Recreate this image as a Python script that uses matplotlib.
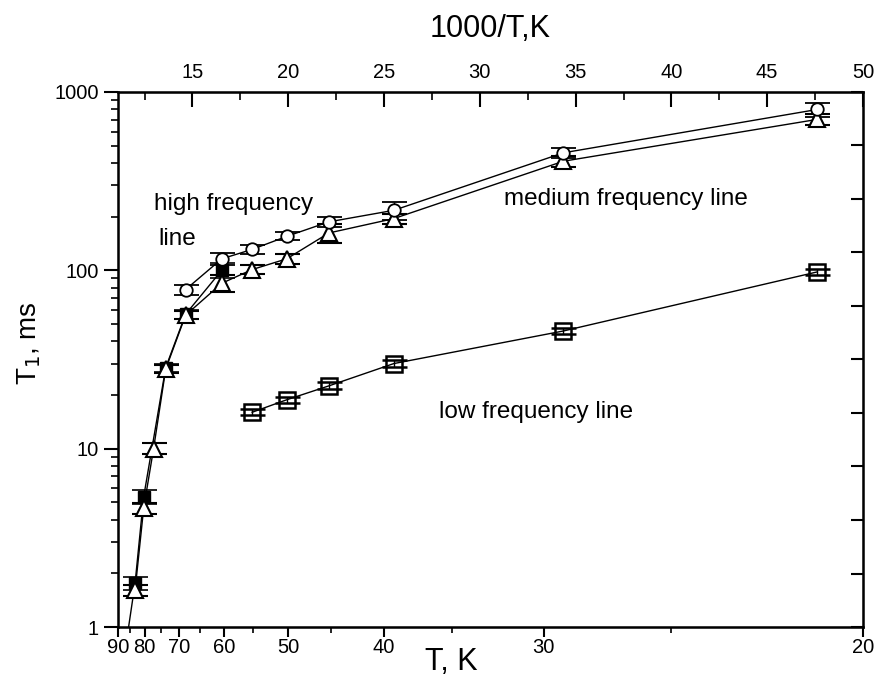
import numpy as np
import matplotlib.pyplot as plt
from matplotlib.ticker import FixedLocator, NullFormatter, LogLocator

plt.rcParams.update({
    "font.family": ["Liberation Sans", "DejaVu Sans"],
    "font.size": 14,
})

# temperatures (K) and T1 (ms)
T_high = [68.3, 60.5, 55.2, 50.2, 45.2, 39.2, 29.1, 21.0]
t1_high = [78, 116, 131, 155, 187, 217, 456, 798]
err_high = [5, 9, 8, 8, 13, 25, 30, 70]

T_med = [83.3, 80.3, 77.1, 73.5, 68.3, 60.5, 55.2, 50.2, 45.2, 39.2, 29.1, 21.0]
t1_med = [1.61, 4.64, 10, 28, 56, 84.6, 101, 116, 162, 195, 409, 702]
err_med = [0.12, 0.35, 0.7, 1.5, 3, 9, 6, 7, 20, 12, 30, 50]

T_fill = [87.0, 83.3, 80.3, 73.5, 68.3, 60.5]
t1_fill = [0.75, 1.76, 5.37, 28.5, 56.7, 100]
err_fill = [0.05, 0.15, 0.5, 1.5, 3.5, 10]

T_low = [55.2, 50.2, 45.2, 39.2, 29.1, 21.0]
t1_low = [16, 18.8, 22.5, 30, 45.7, 98]
err_low = [0.6, 0.8, 1.0, 1.3, 2, 4]

T_ticks = [90, 80, 70, 60, 50, 40, 30, 20]
T_minor = [85, 75, 65, 55, 45, 35, 25]
inv_ticks = [15, 20, 25, 30, 35, 40, 45, 50]


def inv(T):
    return 1000.0 / np.asarray(T)


fig = plt.figure(figsize=(8.77, 6.9), dpi=100)
ax = fig.add_axes([0.1345, 0.0913, 0.8495, 0.7754])

common = dict(color='black', lw=1.0, capsize=9, elinewidth=1.0, capthick=1.2)
ax.errorbar(inv(T_fill), t1_fill, yerr=err_fill, marker='s', ms=9, mfc='black',
            mec='black', **common)
ax.errorbar(inv(T_med), t1_med, yerr=err_med, marker='^', ms=11, mfc='white',
            mec='black', mew=1.5, **common)
ax.errorbar(inv(T_high), t1_high, yerr=err_high, marker='o', ms=9, mfc='white',
            mec='black', mew=1.3, **common)
ax.errorbar(inv(T_low), t1_low, yerr=err_low, marker='s', ms=12, mfc='none',
            mec='black', mew=1.8, **common)

ax.set_yscale('log')
ax.set_ylim(1, 1000)
ax.set_xlim(1000 / 90, 50)

ax.set_yticks([1, 10, 100, 1000])
ax.set_yticklabels(['1', '10', '100', '1000'])
ax.yaxis.set_minor_locator(LogLocator(base=10, subs=np.arange(2, 10)))
ax.yaxis.set_minor_formatter(NullFormatter())

ax.set_xticks(inv(T_ticks))
ax.set_xticklabels([str(t) for t in T_ticks])
ax.xaxis.set_minor_locator(FixedLocator(inv(T_minor)))

ax.tick_params(axis='y', which='major', direction='out', length=10, width=1.5,
               labelsize=14.5, pad=4)
ax.tick_params(axis='y', which='minor', direction='out', length=5, width=1.2)
ax.tick_params(axis='x', which='major', direction='out', length=7, width=1.5,
               labelsize=14.5, pad=1)
ax.tick_params(axis='x', which='minor', direction='out', length=4, width=1.2)

ax.set_xlabel('T, K', fontsize=22)
ax.xaxis.set_label_coords(0.448, -0.038)
ax.set_ylabel('T$_1$, ms', fontsize=20)
ax.yaxis.set_label_coords(-0.101, 0.53)

for s in ax.spines.values():
    s.set_linewidth(1.8)

# top axis: 1000/T
top = ax.secondary_xaxis('top')
top.set_xticks(inv_ticks)
top.xaxis.set_minor_locator(FixedLocator(np.arange(12.5, 50, 5)))
top.tick_params(which='major', direction='in', length=11, width=1.5,
                labelsize=14.5, pad=7)
top.tick_params(which='minor', direction='in', length=6, width=1.2)
top.set_xlabel('1000/T,K', fontsize=22, labelpad=19)

# right axis: evenly spaced ticks only
right = ax.twinx()
right.set_ylim(0, 10)
right.set_yticks(np.arange(0, 11))
right.tick_params(direction='in', length=9, width=1.5, labelright=False)

ax.text(12.97, 234, 'high frequency', fontsize=17.5, ha='left', va='center')
ax.text(13.23, 149, 'line', fontsize=17.5, ha='left', va='center')
ax.text(31.28, 250, 'medium frequency line', fontsize=17.5, ha='left', va='center')
ax.text(27.88, 16, 'low frequency line', fontsize=17.5, ha='left', va='center')

fig.savefig('out.png', dpi=100)
